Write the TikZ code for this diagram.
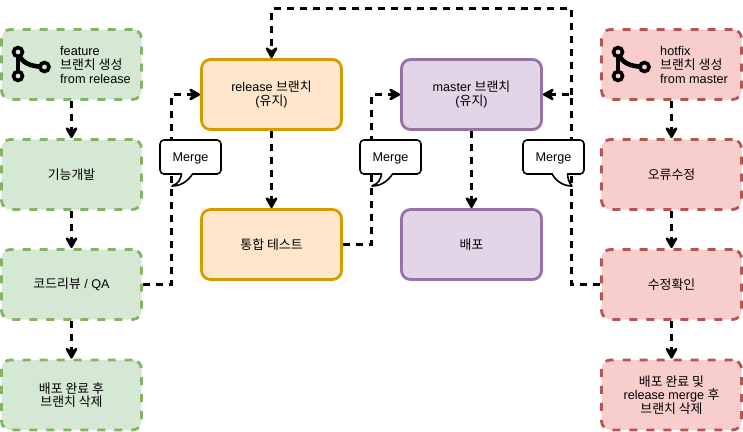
\documentclass[tikz,border=0pt]{standalone}
\usepackage{fontspec}
\setmainfont{Liberation Sans}
\newfontfamily\kr{Noto Sans CJK KR}
\newcommand{\K}[1]{{\kr\fontsize{12.9}{13}\selectfont #1}}
\usetikzlibrary{arrows.meta}
\tikzset{
  x=1pt,y=-1pt,
  basebox/.style={draw,rounded corners=9pt,minimum width=140pt,minimum height=70pt,inner sep=0pt,
    line width=2.8pt,align=center,font=\fontsize{12.6}{13.5}\selectfont},
  greenbox/.style={basebox,fill=green1,draw=green2,dash pattern=on 8pt off 9pt},
  redbox/.style={basebox,fill=red1,draw=red2,dash pattern=on 8pt off 9pt},
  orangebox/.style={basebox,fill=orange1,draw=orange2},
  purplebox/.style={basebox,fill=purple1,draw=purple2},
  link/.style={draw=black,line width=2.8pt,dash pattern=on 7pt off 6pt,
    -{Stealth[length=14pt,width=15.5pt,inset=5pt,round=false,sep=0pt]}},
  mergebox/.style={minimum width=61pt,minimum height=34pt,inner sep=0pt,font=\fontsize{12.6}{13}\selectfont},
  calloutline/.style={fill=white,draw=black,line width=1.6pt,line join=round},
  iconlabel/.style={anchor=west,align=left,inner sep=0pt,font=\fontsize{12.7}{14}\selectfont},
  gitline/.style={line width=4.6pt,draw=black},
  gitdot/.style={circle,draw=black,line width=3.6pt,minimum size=9pt,inner sep=0pt}
}
\definecolor{green1}{HTML}{D5E8D4}
\definecolor{green2}{HTML}{82B366}
\definecolor{red1}{HTML}{F8CECC}
\definecolor{red2}{HTML}{B85450}
\definecolor{orange1}{HTML}{FFE6CC}
\definecolor{orange2}{HTML}{D79B00}
\definecolor{purple1}{HTML}{E1D5E7}
\definecolor{purple2}{HTML}{9673A6}
\begin{document}
\begin{tikzpicture}
\useasboundingbox (0,0) rectangle (743,431);
% left column
\node[greenbox] (f1) at (71.5,64.5) {};
\node[greenbox] (f2) at (71.5,174.5) {\K{기능개발}};
\node[greenbox] (f3) at (71.5,284.5) {\K{코드리뷰} / QA};
\node[greenbox] (f4) at (71.5,395) {\K{배포 완료 후}\\\K{브랜치 삭제}};
% centre
\node[orangebox] (r1) at (271.5,94.5) {release \K{브랜치}\\(\K{유지})};
\node[orangebox] (r2) at (271.5,244.5) {\K{통합 테스트}};
\node[purplebox] (m1) at (471.5,94.5) {master \K{브랜치}\\(\K{유지})};
\node[purplebox] (m2) at (471.5,244.5) {\K{배포}};
% right column
\node[redbox] (h1) at (671.5,64.5) {};
\node[redbox] (h2) at (671.5,174.5) {\K{오류수정}};
\node[redbox] (h3) at (671.5,284.5) {\K{수정확인}};
\node[redbox] (h4) at (671.5,395) {\K{배포 완료 및}\\release merge \K{후}\\\K{브랜치 삭제}};
% labels
\node[iconlabel] (fl) at (60,64.5) {feature\\\K{브랜치 생성}\\from release};
\node[iconlabel] (hl) at (660,64.5) {hotfix\\\K{브랜치 생성}\\from master};
% route points
\coordinate (a1) at (171.5,284.5);
\coordinate (a2) at (171.5,94.5);
\coordinate (b1) at (371.5,244.5);
\coordinate (b2) at (371.5,94.5);
\coordinate (c1) at (571.5,284.5);
\coordinate (c2) at (571.5,94.5);
\coordinate (c3) at (571.5,8.5);
\coordinate (c4) at (271.5,8.5);
% connectors
\draw[link] (f1) -- (f2);
\draw[link] (f2) -- (f3);
\draw[link] (f3) -- (f4);
\draw[link] (h1) -- (h2);
\draw[link] (h2) -- (h3);
\draw[link] (h3) -- (h4);
\draw[link] (r1) -- (r2);
\draw[link] (m1) -- (m2);
\draw[link] (f3.east) -- (a1) -- (a2) -- (r1.west);
\draw[link] (r2.east) -- (b1) -- (b2) -- (m1.west);
\draw[link] (h3.west) -- (c1) -- (c2) -- (m1.east);
\draw[link] (c2) -- (c3) -- (c4) -- (r1.north);
% git icons
\foreach \p/\n/\col in {0/fi/green1,600/hi/red1}{
  \begin{scope}[xshift=\p pt]
    \coordinate (\n a) at (18,52);
    \coordinate (\n b) at (18,76);
    \coordinate (\n c) at (44.5,67);
    \draw[gitline] (\n a) -- (\n b);
    \draw[gitline] (\n a) .. controls (21,63) and (30,66.5) .. (\n c);
    \node[gitdot,fill=\col] at (\n a) {};
    \node[gitdot,fill=\col] at (\n b) {};
    \node[gitdot,fill=\col] at (\n c) {};
  \end{scope}
}
% merge callouts
\draw[calloutline,rounded corners=4pt] (160,140) rectangle (221,174);
\draw[calloutline,rounded corners=4pt] (360,140) rectangle (421,174);
\draw[calloutline,rounded corners=4pt] (523,140) rectangle (584,174);
\fill[white] (182,172) rectangle (192,176);
\fill[white] (382,172) rectangle (392,176);
\fill[white] (553,172) rectangle (567,176);
\draw[calloutline] (181.5,174) .. controls (181,179) and (178,184) .. (172,186) .. controls (181,186) and (188,181) .. (192.5,174);
\draw[calloutline] (381.5,174) .. controls (381,179) and (378,184) .. (372,186) .. controls (381,186) and (388,181) .. (392.5,174);
\draw[calloutline] (567.5,174) .. controls (568,179) and (569,183) .. (572,186) .. controls (563,186) and (556,181) .. (552,174);
\node[mergebox] (g1) at (190.5,158.5) {Merge};
\node[mergebox] (g2) at (390.5,158.5) {Merge};
\node[mergebox] (g3) at (553.5,158.5) {Merge};
\end{tikzpicture}
\end{document}
